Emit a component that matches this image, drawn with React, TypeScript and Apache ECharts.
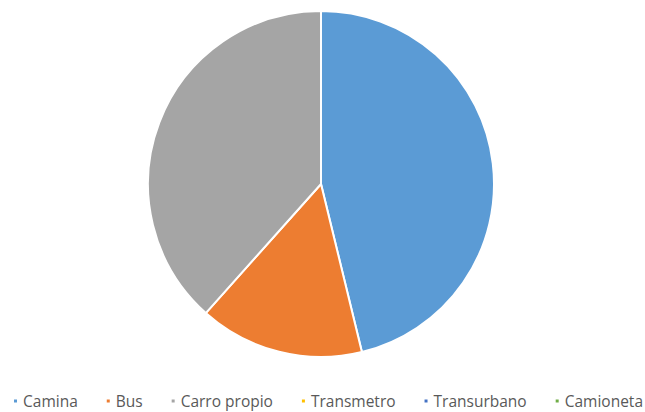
import React, { useEffect, useRef } from "react";
import * as echarts from "echarts";

const categories = ["Camina", "Bus", "Carro propio", "Transmetro", "Transurbano", "Camioneta"];
const values = [46.2, 15.4, 38.4, 0, 0, 0];
const colors = ["#5B9BD5", "#ED7D31", "#A5A5A5", "#FFC000", "#4472C4", "#70AD47"];

export default function App() {
  const ref = useRef<HTMLDivElement>(null);
  useEffect(() => {
    const chart = echarts.init(ref.current!, null, { renderer: "svg" });
    chart.setOption({
      animation: false,
      color: colors,
      legend: {
        data: categories,
        top: 392,
        left: 12,
        width: 645,
        padding: 0,
        icon: "rect",
        itemWidth: 5,
        itemHeight: 5,
        itemGap: 27,
        textStyle: { fontSize: 15.5, color: "#595959", fontFamily: "Open Sans", lineHeight: 18 },
      },
      series: [
        {
          type: "pie",
          center: [321, 184],
          radius: 173,
          startAngle: 90,
          clockwise: true,
          label: { show: false },
          labelLine: { show: false },
          emphasis: { disabled: true },
          itemStyle: { borderColor: "#ffffff", borderWidth: 2 },
          data: categories.map((c, i) => ({ name: c, value: values[i] })),
        },
      ],
    });
    return () => chart.dispose();
  }, []);
  return <div ref={ref} style={{ width: 645, height: 412, position: "absolute", left: 0, top: 0 }} />;
}
